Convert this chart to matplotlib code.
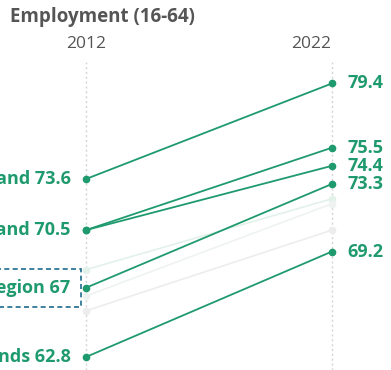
import matplotlib.pyplot as plt

plt.rcParams['font.family'] = ['Open Sans', 'DejaVu Sans']

# highlighted series
names = ["Iceland", "Finland", "Finland", "Nordic Region", "Faroe Islands"]
start = [73.6, 70.5, 70.5, 67.0, 62.8]
end = [79.4, 75.5, 74.4, 73.3, 69.2]
show_left = [True, True, False, True, True]

# faded background series
bg_start = [68.1, 66.5, 65.6]
bg_end = [72.4, 72.1, 70.5]
bg_colors = ["#e2f1ea", "#eef2f0", "#ededed"]

years = ["2012", "2022"]
title = "Employment (16-64)"

green = "#1f9a6e"
grey = "#555555"

W, H = 391, 370
fig = plt.figure(figsize=(W / 100, H / 100), dpi=100)
ax = fig.add_axes([0, 0, 1, 1])
ax.set_xlim(-86 / 246, (W - 86) / 246)
ppu = 16.48
ax.set_ylim(73.6 - (H - 179) / ppu, 73.6 + 179 / ppu)
ax.axis('off')

top_v = 73.6 + (179 - 62) / ppu
for x in (0, 1):
    ax.plot([x, x], [ax.get_ylim()[0], top_v], color="#d4d4d4", lw=1,
            ls=(0, (1.5, 2)), zorder=1)

for s, e, c in zip(bg_start, bg_end, bg_colors):
    ax.plot([0, 1], [s, e], color=c, lw=1.2, marker='o', ms=4.5, zorder=2)

for n, s, e, sl in zip(names, start, end, show_left):
    ax.plot([0, 1], [s, e], color=green, lw=1.3, marker='o', ms=4.5, zorder=3)
    ax.annotate(f"{e:g}", (1, e), xytext=(11, 0), textcoords='offset points',
                ha='left', va='center', fontsize=13, fontweight='bold',
                color=green)
    if sl:
        kw = {}
        if n == "Nordic Region":
            kw['bbox'] = dict(boxstyle='square,pad=0.55', fc='none',
                              ec='#1d6b8c', lw=1.2, ls=(0, (3, 2)))
        ax.annotate(f"{n} {s:g}", (0, s), xytext=(-11, 0),
                    textcoords='offset points', ha='right', va='center',
                    fontsize=13, fontweight='bold', color=green, **kw)

# year headers (the right one sits left of its axis in the original)
fig.text(86 / W, 1 - 44 / H, years[0], ha='center', va='center',
         fontsize=12.5, color=grey)
fig.text(311 / W, 1 - 44 / H, years[1], ha='center', va='center',
         fontsize=12.5, color=grey)

fig.text(10 / W, 1 - 17 / H, title, ha='left', va='center', fontsize=13.5,
         fontweight='bold', color=grey)

fig.savefig("out.png", dpi=100)
